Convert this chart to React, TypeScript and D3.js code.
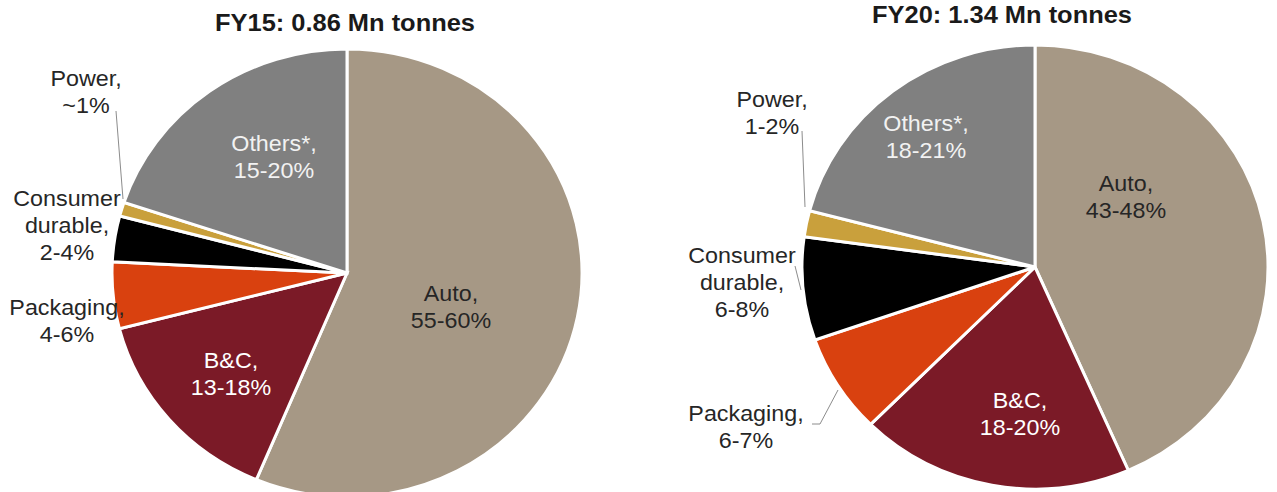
import React from "react";
import * as d3 from "d3";

const categories = ["Auto", "B&C", "Packaging", "Consumer durable", "Power", "Others*"];
const fy15Values = [56.3, 14.7, 4.8, 3.3, 1.0, 19.9];
const fy20Values = [43.4, 19.0, 7.2, 7.5, 1.9, 20.9];
const fy15Labels = ["55-60%", "13-18%", "4-6%", "2-4%", "~1%", "15-20%"];
const fy20Labels = ["43-48%", "18-20%", "6-7%", "6-8%", "1-2%", "18-21%"];
const titles = ["FY15: 0.86 Mn tonnes", "FY20: 1.34 Mn tonnes"];

const colors = ["#a69885", "#7b1a27", "#d9410f", "#000000", "#c9a03c", "#808080"];
const labelColors = ["#262626", "#ffffff", "#262626", "#262626", "#262626", "#f2f2f2"];

// label line splits (layout)
const nameLines: Record<string, string[]> = {
  "Auto": ["Auto,"],
  "B&C": ["B&C,"],
  "Packaging": ["Packaging,"],
  "Consumer durable": ["Consumer", "durable,"],
  "Power": ["Power,"],
  "Others*": ["Others*,"],
};

type Layout = {
  cx: number; cy: number; rx: number; ry: number;
  titleX: number; titleY: number;
  labelPos: [number, number][];
  leaders: [number, number][][];
};

const layouts: Layout[] = [
  {
    cx: 347, cy: 273, rx: 235, ry: 224,
    titleX: 345, titleY: 31,
    labelPos: [[451, 293], [231, 360], [67, 307], [67, 198], [86, 78], [274, 143]],
    leaders: [[[116, 111], [123, 199]]],
  },
  {
    cx: 1035, cy: 267, rx: 233, ry: 222,
    titleX: 1002, titleY: 23,
    labelPos: [[1126, 183], [1020, 400], [746, 413], [742, 255], [772, 99], [926, 123]],
    leaders: [
      [[802, 131], [805, 207]],
      [[795, 266], [801, 290]],
      [[812, 424], [820, 424], [838, 390]],
    ],
  },
];

const LINE = 27;
const FONT = "'Liberation Sans', Arial, sans-serif";

function Pie({ values, labels, title, layout }: { values: number[]; labels: string[]; title: string; layout: Layout }) {
  const pie = d3.pie<number>().sort(null).value((d) => d).startAngle(0).endAngle(2 * Math.PI);
  const arcs = pie(values);
  const arc = d3.arc<d3.PieArcDatum<number>>().innerRadius(0).outerRadius(layout.ry);
  const sx = layout.rx / layout.ry;
  const line = d3.line();
  return (
    <g>
      <g transform={`translate(${layout.cx},${layout.cy}) scale(${sx},1)`}>
        {arcs.map((a, i) => (
          <path key={i} d={arc(a) || ""} fill={colors[i]} stroke="#ffffff" strokeWidth={3}
            strokeLinejoin="miter" vectorEffect="non-scaling-stroke" />
        ))}
      </g>
      {layout.leaders.map((pts, i) => (
        <path key={i} d={line(pts) || ""} fill="none" stroke="#8c8c8c" strokeWidth={1} />
      ))}
      {categories.map((c, i) => {
        const lines = [...nameLines[c], labels[i]];
        const [x, y] = layout.labelPos[i];
        return (
          <g key={c} transform={`translate(${x},${y}) scale(1.06,1)`}>
            <text textAnchor="middle" fontFamily={FONT} fontSize={22} fill={labelColors[i]}>
              {lines.map((t, j) => (
                <tspan key={j} x={0} y={j * LINE} dy="0.35em">{t}</tspan>
              ))}
            </text>
          </g>
        );
      })}
      <g transform={`translate(${layout.titleX},${layout.titleY}) scale(1.06,1)`}>
        <text textAnchor="middle" fontFamily={FONT} fontSize={24} fontWeight="bold" fill="#1a1a1a">{title}</text>
      </g>
    </g>
  );
}

export default function App() {
  return (
    <svg width={1277} height={492} style={{ position: "absolute", left: 0, top: 0, background: "#fff" }}>
      <rect width={1277} height={492} fill="#ffffff" />
      <Pie values={fy15Values} labels={fy15Labels} title={titles[0]} layout={layouts[0]} />
      <Pie values={fy20Values} labels={fy20Labels} title={titles[1]} layout={layouts[1]} />
    </svg>
  );
}
